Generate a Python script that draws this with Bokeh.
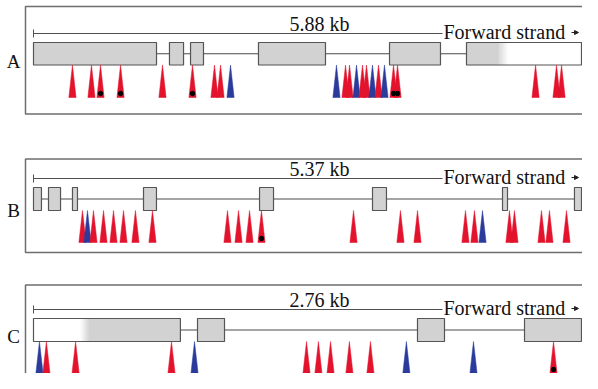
from bokeh.plotting import figure
from bokeh.models import Range1d, ColumnDataSource, Label, Arrow, NormalHead
from bokeh.layouts import column
from bokeh.embed import file_html
from bokeh.resources import INLINE

# ---------------- data (positions in kb from gene start) ----------------
panel_labels = ["A", "B", "C"]
gene_lengths = [5.88, 5.37, 2.76]

a_exon_start = [0.000, 1.459, 1.685, 2.414, 3.820, 4.646]
a_exon_end = [1.320, 1.610, 1.824, 3.133, 4.367, 5.880]
a_cds = [0.0, 5.043]
a_var_pos = [0.418, 0.622, 0.719, 0.934, 1.384, 1.706, 1.942, 2.007, 2.114,
             3.251, 3.348, 3.391, 3.466, 3.530, 3.573, 3.637, 3.702, 3.766,
             3.863, 3.906, 5.387, 5.612, 5.666]
a_var_cls = ["R", "R", "R", "R", "R", "R", "R", "R", "B",
             "B", "R", "R", "B", "R", "R", "B", "R", "B",
             "R", "R", "R", "R", "R"]
a_marked = [0.719, 0.934, 1.706, 3.863, 3.906]

b_exon_start = [0.000, 0.147, 0.382, 1.078, 2.215, 3.322, 4.596, 5.301]
b_exon_end = [0.078, 0.265, 0.431, 1.205, 2.352, 3.459, 4.645, 5.370]
b_cds = [0.0, 5.37]
b_var_pos = [0.480, 0.529, 0.588, 0.686, 0.784, 0.882, 0.999, 1.166,
             1.901, 2.009, 2.117, 2.234, 3.136, 3.596, 3.763, 4.233,
             4.321, 4.400, 4.664, 4.713, 4.978, 5.056, 5.223]
b_var_cls = ["R", "B", "R", "R", "R", "R", "R", "R",
             "R", "R", "R", "R", "R", "R", "R", "R",
             "R", "B", "R", "R", "R", "R", "R"]
b_marked = [2.234]

c_exon_start = [0.000, 0.826, 1.934, 2.473]
c_exon_end = [0.740, 0.962, 2.070, 2.760]
c_cds = [0.257, 2.76]
c_var_pos = [0.030, 0.065, 0.212, 0.695, 0.811, 1.375, 1.435, 1.496,
             1.591, 1.697, 1.878, 2.216, 2.619]
c_var_cls = ["B", "R", "R", "R", "B", "R", "R", "R",
             "R", "R", "B", "B", "R"]
c_marked = [2.619]

CLS_COLOR = {"R": "#e3132d", "B": "#2a3b9c"}
FONT = "Liberation Serif"

# layout (pixel space of the picture)
GX0, GX1 = 33, 581  # gene drawn span
W = 582


def blend(t):
    g = (0xd2, 0xd2, 0xd2)
    w = (0xff, 0xff, 0xff)
    c = [round(w[i] + (g[i] - w[i]) * t) for i in range(3)]
    return "#%02x%02x%02x" % tuple(c)


def make_panel(label, length, es, ee, cds, vpos, vcls, marked,
               ytop, ybot, box_top, box_bot, scale_y, ex_top, ex_bot,
               tri_bot, label_y, fade_px):
    s = length / (GX1 - GX0)

    def kb(px):
        return (px - GX0) * s

    p = figure(width=W, height=ybot - ytop,
               x_range=Range1d(kb(0), kb(W)), y_range=Range1d(ybot, ytop),
               output_backend="svg", toolbar_location=None, min_border=0,
               x_axis_location=None, y_axis_location=None)
    p.grid.visible = False
    p.outline_line_color = None
    p.background_fill_color = "white"
    p.border_fill_color = "white"

    # panel frame
    p.quad(left=[kb(25)], right=[kb(640)], top=[box_top], bottom=[box_bot],
           fill_color=None, line_color="#6e6e6e", line_width=1.5)

    # scale bar
    p.segment(x0=[0], x1=[kb(442)], y0=[scale_y], y1=[scale_y],
              line_color="#505050", line_width=1)
    p.segment(x0=[0], x1=[0], y0=[scale_y - 4], y1=[scale_y + 4],
              line_color="#505050", line_width=1)
    p.add_layout(Label(x=kb(289), y=scale_y - 10, text=f"{length:.2f} kb",
                       text_font=FONT, text_font_size="20px",
                       text_align="left", text_baseline="middle",
                       text_color="#111111"))
    p.add_layout(Label(x=kb(443), y=scale_y - 1.5, text="Forward strand",
                       text_font=FONT, text_font_size="20px",
                       text_align="left", text_baseline="middle",
                       text_color="#111111"))
    p.add_layout(Arrow(x_start=kb(571), x_end=kb(578), y_start=scale_y - 1,
                       y_end=scale_y - 1, line_width=1, line_color="#222222",
                       end=NormalHead(size=4, fill_color="#222222",
                                      line_color="#222222")))

    # panel letter
    p.add_layout(Label(x=kb(13), y=label_y, text=label, text_font=FONT,
                       text_font_size="19px", text_align="center",
                       text_baseline="middle", text_color="#111111"))

    # intron line
    ymid = (ex_top + ex_bot) / 2
    p.segment(x0=[es[0]], x1=[ee[-1]], y0=[ymid], y1=[ymid],
              line_color="#4a4a4a", line_width=1)

    # exon fills (white UTR, grey coding, soft transition)
    p.quad(left=es, right=ee, top=ex_top, bottom=ex_bot,
           fill_color="white", line_color=None)
    fade = fade_px * s
    L, R, C = [], [], []
    for a, b in zip(es, ee):
        x = a
        step = s
        while x < b - 1e-9:
            xn = min(b, x + step)
            xc = (x + xn) / 2
            t0 = 1.0 if cds[0] <= 0 else min(1, max(0, (xc - cds[0]) / fade + 0.5))
            t1 = 1.0 if cds[1] >= length else min(1, max(0, (cds[1] - xc) / fade + 0.5))
            col = blend(min(t0, t1))
            if C and C[-1] == col and abs(R[-1] - x) < 1e-9:
                R[-1] = xn
            else:
                L.append(x); R.append(xn); C.append(col)
            x = xn
    src = ColumnDataSource(dict(left=L, right=R, color=C))
    p.quad(left="left", right="right", top=ex_top, bottom=ex_bot,
           fill_color="color", line_color="color", line_width=0.3, source=src)
    p.quad(left=es, right=ee, top=ex_top, bottom=ex_bot,
           fill_color=None, line_color="#555555", line_width=1.2)

    # variant triangles
    hw = 3.6 * s
    xs = [[v - hw, v, v + hw] for v in vpos]
    ys = [[tri_bot, ex_bot, tri_bot] for _ in vpos]
    cols = [CLS_COLOR[c] for c in vcls]
    p.patches(xs="xs", ys="ys", fill_color="color", line_color="color",
              line_width=0.5,
              source=ColumnDataSource(dict(xs=xs, ys=ys, color=cols)))
    p.scatter(x=marked, y=[tri_bot - 4] * len(marked), size=4.5,
              color="black")
    return p


pa = make_panel(panel_labels[0], gene_lengths[0], a_exon_start, a_exon_end,
                a_cds, a_var_pos, a_var_cls, a_marked,
                ytop=0, ybot=130, box_top=6, box_bot=113.5, scale_y=33,
                ex_top=42, ex_bot=64.5, tri_bot=97, label_y=61, fade_px=10)
pb = make_panel(panel_labels[1], gene_lengths[1], b_exon_start, b_exon_end,
                b_cds, b_var_pos, b_var_cls, b_marked,
                ytop=130, ybot=265, box_top=158.5, box_bot=252, scale_y=178,
                ex_top=187, ex_bot=210, tri_bot=242, label_y=210, fade_px=10)
pc = make_panel(panel_labels[2], gene_lengths[2], c_exon_start, c_exon_end,
                c_cds, c_var_pos, c_var_cls, c_marked,
                ytop=265, ybot=373, box_top=284.5, box_bot=386, scale_y=309,
                ex_top=318, ex_bot=341, tri_bot=373, label_y=336, fade_px=8)

layout = column(pa, pb, pc, spacing=0)
open("out.html", "w").write(file_html(layout, INLINE))
